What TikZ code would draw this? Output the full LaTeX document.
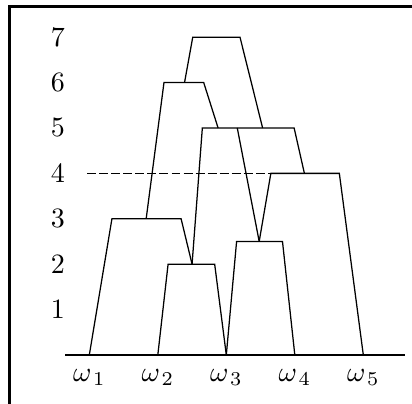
\documentclass[tikz,border=0pt]{standalone}
\usepackage{tikz}
\usepackage{amsmath}
\usetikzlibrary{calc}
\tikzset{
  leg/.style={line width=0.45pt, black},
  cut/.style={line width=0.45pt, dash pattern=on 3.2pt off 1.1pt},
  axisline/.style={line width=0.5pt},
  frameline/.style={line width=1.1pt},
  lvl/.style={font=\normalsize, inner sep=0pt, anchor=center},
  leaflbl/.style={font=\normalsize, inner sep=0pt, anchor=base}
}

\begin{document}
\begin{tikzpicture}[x=0.860cm, y=0.570cm]
  \useasboundingbox (-0.304,-1.079) rectangle (5.711,7.819);
  \draw[frameline] (-0.165,-1.079) -- (-0.165,7.676) -- (5.711,7.676);

  % leaves
  \foreach \i in {1,...,5} \coordinate (w\i) at (\i,0);
  \draw[axisline] (0.645,0) -- (5.61,0);
  \foreach \i in {1,...,5}
    \node[leaflbl] (l\i) at ([yshift=-9.5pt]w\i) {$\omega_{\mkern2mu\i}$};

  % levels
  \foreach \k in {1,...,7} \node[lvl] (n\k) at (0.54,\k) {$\k$};

  % cluster tops
  \coordinate (aL) at (2.15,2);   \coordinate (aM) at (2.50,2);   \coordinate (aR) at (2.83,2);
  \coordinate (bL) at (1.33,3);   \coordinate (bM) at (1.83,3);   \coordinate (bR) at (2.34,3);
  \coordinate (cL) at (3.15,2.5); \coordinate (cM) at (3.48,2.5); \coordinate (cR) at (3.82,2.5);
  \coordinate (dL) at (3.65,4);   \coordinate (dM) at (4.14,4);   \coordinate (dR) at (4.65,4);
  \coordinate (eL) at (2.65,5);   \coordinate (eA) at (2.88,5);   \coordinate (eB) at (3.16,5);
  \coordinate (eC) at (3.53,5);   \coordinate (eR) at (3.99,5);
  \coordinate (fL) at (2.09,6);   \coordinate (fM) at (2.39,6);   \coordinate (fR) at (2.67,6);
  \coordinate (gL) at (2.51,7);   \coordinate (gR) at (3.20,7);
  \coordinate (cutstart) at (0.97,4);

  \draw[leg] (w2) -- (aL) -- (aR) -- (w3);
  \draw[leg] (w1) -- (bL) -- (bR) -- (aM);
  \draw[leg] (w3) -- (cL) -- (cR) -- (w4);
  \draw[leg] (cM) -- (dL) -- (dR) -- (w5);
  \draw[leg] (aM) -- (eL) -- (eR) -- (dM);
  \draw[leg] (eB) -- (cM);
  \draw[leg] (bM) -- (fL) -- (fR) -- (eA);
  \draw[leg] (fM) -- (gL) -- (gR) -- (eC);

  \draw[cut] (cutstart) -- (dL);
\end{tikzpicture}
\end{document}
